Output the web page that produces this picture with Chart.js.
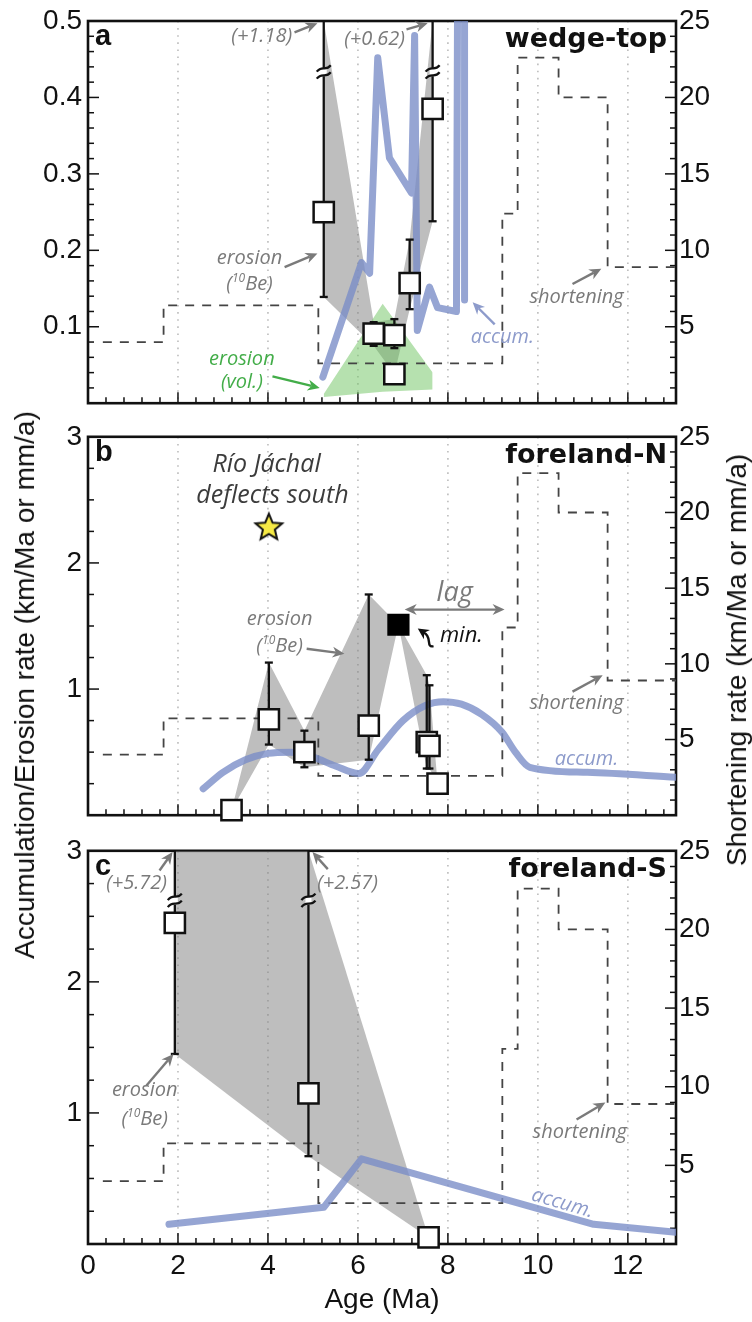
<!DOCTYPE html>
<html>
<head>
<meta charset="utf-8">
<title>Erosion, accumulation and shortening rates</title>
<script src="https://cdn.jsdelivr.net/npm/chart.js@4.4.1/dist/chart.umd.min.js"></script>
<style>
  html, body { margin: 0; padding: 0; background: #fff; }
  body { position: relative; width: 752px; height: 1322px; overflow: hidden; }
  canvas { position: absolute; left: 0; }
  .vtitle { position: absolute; font: 28px "Liberation Sans", Arial, sans-serif; color: #111;
            white-space: nowrap; line-height: 1; transform: translate(-50%, -50%) rotate(-90deg); }
</style>
</head>
<body>
<canvas id="panelA" width="752" height="420" style="top:0px"></canvas>
<canvas id="panelB" width="752" height="412" style="top:420px"></canvas>
<canvas id="panelC" width="752" height="488" style="top:834px"></canvas>
<div class="vtitle" style="left:25px; top:685px">Accumulation/Erosion rate (km/Ma or mm/a)</div>
<div class="vtitle" style="left:737px; top:660px">Shortening rate (km/Ma or mm/a)</div>
<script>
// ---------- shared axes ----------
const AGE_MAX = 13.07;
const ageTicks = [0, 2, 4, 6, 8, 10, 12];
const shortTicks = [5, 10, 15, 20, 25];

// Shortening rate (km/Ma); each rate holds from its age until the next age
const shortAge  = [0.33, 1.68, 5.12, 9.21, 9.55, 10.46, 11.55, 13.07];
const shortRate = [4.0, 6.4, 2.6, 12.4, 22.6, 20.0, 8.9, 8.9];

// ---------- (a) wedge-top ----------
const wedgeTicks  = [0.1, 0.2, 0.3, 0.4, 0.5];
const wedgeAge    = [5.24, 6.35, 6.81, 6.81, 7.15, 7.66];
const wedgeRate   = [0.25, 0.091, 0.089, 0.038, 0.157, 0.385];
const wedgeErrLo  = [0.111, 0.016, 0.017, 0, 0.034, 0.147];
const wedgeErrHi  = [1.18, 0.015, 0.021, 0, 0.057, 0.62];
const wedgeVolAge = [5.24, 6.55, 7.66];
const wedgeVolHi  = [0.012, 0.13, 0.04];
const wedgeVolLo  = [0.008, 0.015, 0.018];
const wedgeAccumAge  = [5.22, 6.08, 6.26, 6.44, 6.70, 7.19, 7.26, 7.32, 7.59, 7.77, 8.19, 8.22, 8.37, 8.37];
const wedgeAccumRate = [0.034, 0.184, 0.17, 0.452, 0.321, 0.275, 0.481, 0.095, 0.152, 0.125, 0.12, 0.62, 0.62, 0.135];

// ---------- (b) foreland-N ----------
const northTicks   = [1, 2, 3];
const northAge     = [3.19, 4.02, 4.81, 6.24, 7.53, 7.59, 7.77];
const northRate    = [0.04, 0.76, 0.50, 0.71, 0.58, 0.55, 0.25];
const northErrLo   = [0, 0.20, 0.12, 0.27, 0.21, 0.18, 0];
const northErrHi   = [0, 0.45, 0.17, 1.04, 0.53, 0.48, 0];
const northMinAge  = [6.90];
const northMinRate = [1.51];
const jachalAge    = [4.02];
const jachalRate   = [2.29];
const northAccumAge  = [2.56, 3.0, 3.5, 4.0, 4.5, 5.0, 5.5, 6.02, 6.45, 7.0, 7.5, 7.9, 8.3, 8.75, 9.2, 9.5, 9.82, 11.1, 13.07];
const northAccumRate = [0.21, 0.34, 0.44, 0.49, 0.50, 0.46, 0.39, 0.33, 0.52, 0.75, 0.87, 0.90, 0.88, 0.80, 0.66, 0.50, 0.38, 0.34, 0.30];

// ---------- (c) foreland-S ----------
const southTicks  = [1, 2, 3];
const southAge    = [1.93, 4.90, 7.57];
const southRate   = [2.45, 1.15, 0.05];
const southErrLo  = [1.0, 0.48, 0];
const southErrHi  = [5.72, 2.57, 0];
const southAccumAge  = [1.80, 5.24, 6.08, 11.24, 13.07];
const southAccumRate = [0.15, 0.28, 0.65, 0.15, 0.09];

// ---------- styling ----------
const AXIS_FONT = '"Liberation Sans", Arial, sans-serif';
const NOTE_FONT = 'italic 20px "Open Sans", sans-serif';
const GREY_TXT  = '#7a7a7a';
const GREEN_TXT = '#43ad49';
const ACCUM_TXT = '#8d9bcb';
const ACCUM_COL = 'rgba(124,142,200,0.8)';
const BE_FILL   = 'rgba(125,125,125,0.5)';
const VOL_FILL  = 'rgba(110,195,95,0.5)';

function pts(xs, ys) { return xs.map((x, i) => ({ x, y: ys[i] })); }
function zeros(n) { return new Array(n).fill(0); }

// Upper and lower limits of the 10Be rates, grouped by age and capped at the axis top
function envelope(ages, rates, lo, hi, cap) {
  const groups = new Map();
  ages.forEach((a, i) => {
    const l = rates[i] - lo[i], h = Math.min(rates[i] + hi[i], cap);
    const g = groups.get(a);
    if (g) { g.lo = Math.min(g.lo, l); g.hi = Math.max(g.hi, h); }
    else groups.set(a, { lo: l, hi: h });
  });
  const keys = [...groups.keys()].sort((p, q) => p - q);
  return {
    upper: keys.map(k => ({ x: k, y: groups.get(k).hi })),
    lower: keys.map(k => ({ x: k, y: groups.get(k).lo }))
  };
}

// Filled five-point star used as a point style
function starImage(r, fill) {
  const s = Math.ceil(r * 2 + 4), c = document.createElement('canvas');
  c.width = c.height = s;
  const g = c.getContext('2d');
  g.translate(s / 2, s / 2 + r * 0.1);
  g.beginPath();
  for (let k = 0; k < 10; k++) {
    const rr = k % 2 ? r * 0.45 : r, ang = -Math.PI / 2 + k * Math.PI / 5;
    g.lineTo(rr * Math.cos(ang), rr * Math.sin(ang));
  }
  g.closePath();
  g.fillStyle = fill; g.fill();
  g.lineWidth = 2; g.strokeStyle = '#111'; g.lineJoin = 'miter'; g.stroke();
  return c;
}

function eachStep(min, max, step, major, fn) {
  const n0 = Math.ceil(min / step - 1e-6), n1 = Math.floor(max / step + 1e-6);
  for (let n = n0; n <= n1; n++) {
    const v = n * step, r = v / major;
    fn(v, Math.abs(r - Math.round(r)) < 1e-6);
  }
}

function drawGridAndBox(chart, p) {
  const { ctx, chartArea: a, scales: { x, y, y2 } } = chart;
  ctx.save();
  // dotted age gridlines
  ctx.strokeStyle = '#bcbcbc'; ctx.lineWidth = 1.6; ctx.setLineDash([1.6, 5.5]);
  ageTicks.forEach(v => {
    if (v <= 0) return;
    const px = x.getPixelForValue(v);
    ctx.beginPath(); ctx.moveTo(px, a.top); ctx.lineTo(px, a.bottom); ctx.stroke();
  });
  ctx.setLineDash([]);
  // inward tick marks
  ctx.strokeStyle = '#111'; ctx.lineWidth = 1.5;
  const seg = (x1, y1, x2, y2) => { ctx.beginPath(); ctx.moveTo(x1, y1); ctx.lineTo(x2, y2); ctx.stroke(); };
  eachStep(y.min, y.max, p.yMinor, p.yMajor, (v, m) => { const py = y.getPixelForValue(v); seg(a.left, py, a.left + (m ? 11 : 6), py); });
  eachStep(y2.min, y2.max, 1, 5, (v, m) => { const py = y2.getPixelForValue(v); seg(a.right, py, a.right - (m ? 11 : 6), py); });
  eachStep(0, AGE_MAX, 0.4, 2, (v, m) => { const px = x.getPixelForValue(v); seg(px, a.bottom, px, a.bottom - (m ? 11 : 6)); });
  // frame
  ctx.lineWidth = 2.6;
  ctx.strokeRect(a.left, a.top, a.right - a.left, a.bottom - a.top);
  ctx.restore();
}

function drawBreak(ctx, px, py) {
  ctx.save();
  ctx.fillStyle = '#fff';
  ctx.fillRect(px - 3, py - 4, 6, 8);
  ctx.strokeStyle = '#111'; ctx.lineWidth = 2.2;
  [-3.5, 3.5].forEach(d => {
    ctx.beginPath();
    ctx.moveTo(px - 7, py + d + 3);
    ctx.bezierCurveTo(px - 2, py + d - 4, px + 2, py + d + 3, px + 7, py + d - 3.5);
    ctx.stroke();
  });
  ctx.restore();
}

function drawErrorBars(chart, ds, p) {
  const { ctx, chartArea: a, scales: { x, y } } = chart;
  ctx.save();
  ctx.strokeStyle = '#111'; ctx.lineWidth = 2.3;
  ds.data.forEach((pt, i) => {
    const eLo = ds.errLo[i], eHi = ds.errHi[i];
    if (!eLo && !eHi) return;
    const px = x.getPixelForValue(pt.x);
    const pyLo = y.getPixelForValue(pt.y - eLo);
    const clipped = pt.y + eHi > y.max;
    const pyHi = clipped ? a.top : y.getPixelForValue(pt.y + eHi);
    ctx.beginPath(); ctx.moveTo(px, pyLo); ctx.lineTo(px, pyHi); ctx.stroke();
    ctx.beginPath(); ctx.moveTo(px - 4, pyLo); ctx.lineTo(px + 4, pyLo); ctx.stroke();
    if (!clipped) { ctx.beginPath(); ctx.moveTo(px - 4, pyHi); ctx.lineTo(px + 4, pyHi); ctx.stroke(); }
    else drawBreak(ctx, px, y.getPixelForValue(p.breakAt));
  });
  ctx.restore();
}

function arrowHead(ctx, x, y, ang, L, W) {
  const c = Math.cos(ang), s = Math.sin(ang);
  ctx.beginPath();
  ctx.moveTo(x, y);
  ctx.lineTo(x - L * c + W * s, y - L * s - W * c);
  ctx.lineTo(x - L * 0.7 * c, y - L * 0.7 * s);
  ctx.lineTo(x - L * c - W * s, y - L * s + W * c);
  ctx.closePath(); ctx.fill();
}

function drawArrow(ctx, x1, y1, x2, y2, color, both) {
  const ang = Math.atan2(y2 - y1, x2 - x1), c = Math.cos(ang), s = Math.sin(ang), L = 12;
  ctx.save();
  ctx.strokeStyle = color; ctx.fillStyle = color; ctx.lineWidth = 2.4;
  ctx.beginPath();
  ctx.moveTo(both ? x1 + c * L * 0.7 : x1, both ? y1 + s * L * 0.7 : y1);
  ctx.lineTo(x2 - c * L * 0.7, y2 - s * L * 0.7);
  ctx.stroke();
  arrowHead(ctx, x2, y2, ang, L, 5.5);
  if (both) arrowHead(ctx, x1, y1, ang + Math.PI, L, 5.5);
  ctx.restore();
}

function drawBe(ctx, cx, cy, size, color) {
  const f = `italic ${size}px "Open Sans", sans-serif`;
  const fs = `italic ${Math.round(size * 0.62)}px "Open Sans", sans-serif`;
  ctx.save();
  ctx.fillStyle = color; ctx.textBaseline = 'middle'; ctx.textAlign = 'left';
  ctx.font = f; const w1 = ctx.measureText('(').width, w3 = ctx.measureText('Be)').width;
  ctx.font = fs; const w2 = ctx.measureText('10').width;
  let xx = cx - (w1 + w2 + w3) / 2;
  ctx.font = f; ctx.fillText('(', xx, cy); xx += w1;
  ctx.font = fs; ctx.fillText('10', xx, cy - size * 0.28); xx += w2;
  ctx.font = f; ctx.fillText('Be)', xx, cy);
  ctx.restore();
}

function drawNotes(chart, p) {
  const { ctx, chartArea: a, scales: { x, y } } = chart;
  const P = (ax, ay) => [x.getPixelForValue(ax), y.getPixelForValue(ay)];
  p.notes.forEach(n => {
    const color = n.color || GREY_TXT;
    if (n.type === 'text') {
      const [px, py] = P(n.x, n.y);
      ctx.save();
      ctx.translate(px, py);
      if (n.rotate) ctx.rotate(n.rotate * Math.PI / 180);
      ctx.font = n.font || NOTE_FONT; ctx.fillStyle = color;
      ctx.textAlign = 'center'; ctx.textBaseline = 'middle';
      ctx.fillText(n.text, 0, 0);
      ctx.restore();
    } else if (n.type === 'be') {
      const [px, py] = P(n.x, n.y);
      drawBe(ctx, px, py, 20, color);
    } else if (n.type === 'arrow' || n.type === 'darrow') {
      const [x1, y1] = P(n.from[0], n.from[1]), [x2, y2] = P(n.to[0], n.to[1]);
      drawArrow(ctx, x1, y1, x2, y2, color, n.type === 'darrow');
    } else if (n.type === 'curl') {
      const [x1, y1] = P(n.from[0], n.from[1]), [x2, y2] = P(n.to[0], n.to[1]);
      ctx.save();
      ctx.strokeStyle = '#111'; ctx.fillStyle = '#111'; ctx.lineWidth = 2.4;
      ctx.beginPath();
      ctx.moveTo(x1, y1);
      ctx.bezierCurveTo(x1 - 8, y1 + 2, x1 - 1, y1 - 10, x2 + 6, y2 + 4);
      ctx.stroke();
      arrowHead(ctx, x2, y2, Math.atan2(-4, -6), 11, 5.5);
      ctx.restore();
    }
  });
  // panel letter and title
  ctx.save();
  ctx.fillStyle = '#111'; ctx.textBaseline = 'alphabetic';
  ctx.font = 'bold 29px "Liberation Sans", sans-serif'; ctx.textAlign = 'left';
  ctx.fillText(p.letter, a.left + 7, a.top + 24);
  ctx.font = 'bold 27px "DejaVu Sans", sans-serif'; ctx.textAlign = 'right';
  ctx.fillText(p.title, a.right - 9, a.top + 26);
  ctx.restore();
}

function makeDecor(p) {
  return {
    id: 'decor' + p.letter,
    beforeDatasetsDraw(chart) { drawGridAndBox(chart, p); },
    beforeDatasetDraw(chart, args) {
      const ds = chart.data.datasets[args.index];
      if (ds.errLo) drawErrorBars(chart, ds, p);
    },
    afterDatasetsDraw(chart) { drawNotes(chart, p); }
  };
}

function buildPanel(canvasId, p) {
  // the shaded 10Be range also passes through the minimum-rate sample, if any
  const minAge = p.minAge || [], minRate = p.minRate || [];
  const env = envelope(p.age.concat(minAge), p.rate.concat(minRate),
                       p.errLo.concat(zeros(minAge.length)), p.errHi.concat(zeros(minAge.length)), p.yMax);
  const datasets = [
    { label: '10Be upper', data: env.upper, fill: '+1', backgroundColor: BE_FILL, borderWidth: 0, pointRadius: 0, order: 10, clip: 0 },
    { label: '10Be lower', data: env.lower, fill: false, borderWidth: 0, pointRadius: 0, order: 10, clip: 0 }
  ];
  if (p.volAge) {
    datasets.push(
      { label: 'vol upper', data: pts(p.volAge, p.volHi), fill: '+1', backgroundColor: VOL_FILL, borderWidth: 0, pointRadius: 0, order: 9, clip: 0 },
      { label: 'vol lower', data: pts(p.volAge, p.volLo), fill: false, borderWidth: 0, pointRadius: 0, order: 9, clip: 0 }
    );
  }
  datasets.push(
    { label: 'shortening', data: pts(shortAge, shortRate), yAxisID: 'y2', stepped: 'before', fill: false,
      borderColor: '#444', borderWidth: 1.8, borderDash: [9, 8], pointRadius: 0, order: 8, clip: 0 },
    { label: 'accum.', data: pts(p.accumAge, p.accumRate), fill: false, borderColor: ACCUM_COL, borderWidth: 7,
      borderJoinStyle: 'round', borderCapStyle: 'round', pointRadius: 0, order: 5, clip: 0,
      cubicInterpolationMode: p.smooth ? 'monotone' : 'default', tension: p.smooth ? 0.4 : 0 },
    { label: 'erosion (10Be)', data: pts(p.age, p.rate), errLo: p.errLo, errHi: p.errHi, showLine: false,
      pointStyle: 'rect', pointRadius: 14.3, pointBackgroundColor: '#fff', pointBorderColor: '#111',
      pointBorderWidth: 2.5, order: 1, clip: false }
  );
  if (minAge.length) {
    datasets.push({ label: 'min.', data: pts(minAge, minRate), showLine: false, pointStyle: 'rect',
      pointRadius: 14.3, pointBackgroundColor: '#000', pointBorderColor: '#000', pointBorderWidth: 2, order: 0, clip: false });
  }
  if (p.starAge) {
    datasets.push({ label: 'Río Jáchal', data: pts(p.starAge, p.starRate), showLine: false,
      pointStyle: starImage(14, '#f6ea45'), pointRadius: 14, order: 0, clip: false });
  }

  const tickFont = { family: AXIS_FONT, size: 28, lineHeight: 1 };
  const xHeight = p.showAge ? 78 : 0;
  return new Chart(document.getElementById(canvasId), {
    type: 'line',
    data: { datasets },
    options: {
      responsive: false, animation: false, events: [],
      layout: { padding: { top: p.padTop, bottom: p.padBottom, left: 0, right: 0 } },
      plugins: { legend: { display: false }, tooltip: { enabled: false } },
      scales: {
        x: {
          type: 'linear', min: 0, max: AGE_MAX, display: !!p.showAge,
          afterBuildTicks: s => { s.ticks = ageTicks.map(v => ({ value: v })); },
          afterFit: s => { s.height = xHeight; s.paddingLeft = 0; s.paddingRight = 0; },
          grid: { display: false, drawTicks: false }, border: { display: false },
          ticks: { font: tickFont, color: '#111', padding: 8, maxRotation: 0, autoSkip: false },
          title: { display: true, text: 'Age (Ma)', color: '#111', font: tickFont, padding: { top: 0, bottom: 8 } }
        },
        y: {
          type: 'linear', position: 'left', min: 0, max: p.yMax,
          afterBuildTicks: s => { s.ticks = p.yTicks.map(v => ({ value: v })); },
          afterFit: s => { s.width = 88; s.paddingTop = 0; s.paddingBottom = 0; },
          grid: { display: false, drawTicks: false }, border: { display: false },
          ticks: { font: tickFont, color: '#111', padding: 6 }
        },
        y2: {
          type: 'linear', position: 'right', min: 0, max: 25,
          afterBuildTicks: s => { s.ticks = shortTicks.map(v => ({ value: v })); },
          afterFit: s => { s.width = 76; s.paddingTop = 0; s.paddingBottom = 0; },
          grid: { display: false, drawTicks: false }, border: { display: false },
          ticks: { font: tickFont, color: '#111', padding: 3 }
        }
      }
    },
    plugins: [makeDecor(p)]
  });
}

buildPanel('panelA', {
  letter: 'a', title: 'wedge-top', padTop: 21, padBottom: 4,
  yMax: 0.5, yTicks: wedgeTicks, yMinor: 0.02, yMajor: 0.1, breakAt: 0.433,
  age: wedgeAge, rate: wedgeRate, errLo: wedgeErrLo, errHi: wedgeErrHi,
  volAge: wedgeVolAge, volHi: wedgeVolHi, volLo: wedgeVolLo,
  accumAge: wedgeAccumAge, accumRate: wedgeAccumRate,
  notes: [
    { type: 'text', text: '(+1.18)', x: 3.86, y: 0.48 },
    { type: 'arrow', from: [4.59, 0.485], to: [5.10, 0.497] },
    { type: 'text', text: '(+0.62)', x: 6.37, y: 0.476 },
    { type: 'arrow', from: [7.08, 0.489], to: [7.55, 0.497] },
    { type: 'text', text: 'erosion', x: 3.59, y: 0.189 },
    { type: 'be', x: 3.59, y: 0.156 },
    { type: 'arrow', from: [4.37, 0.178], to: [5.10, 0.196] },
    { type: 'text', text: 'erosion', x: 3.42, y: 0.058, color: GREEN_TXT },
    { type: 'text', text: '(vol.)', x: 3.42, y: 0.027, color: GREEN_TXT },
    { type: 'arrow', from: [4.10, 0.035], to: [5.15, 0.020], color: GREEN_TXT },
    { type: 'text', text: 'accum.', x: 9.21, y: 0.086, color: ACCUM_TXT },
    { type: 'arrow', from: [9.04, 0.103], to: [8.55, 0.132], color: ACCUM_TXT },
    { type: 'text', text: 'shortening', x: 10.86, y: 0.138 },
    { type: 'arrow', from: [10.77, 0.156], to: [11.41, 0.176] }
  ]
});

buildPanel('panelB', {
  letter: 'b', title: 'foreland-N', padTop: 15, padBottom: 4,
  yMax: 3, yTicks: northTicks, yMinor: 0.25, yMajor: 1, breakAt: 2.6,
  age: northAge, rate: northRate, errLo: northErrLo, errHi: northErrHi,
  minAge: northMinAge, minRate: northMinRate, starAge: jachalAge, starRate: jachalRate,
  accumAge: northAccumAge, accumRate: northAccumRate, smooth: true,
  notes: [
    { type: 'text', text: 'Río Jáchal', x: 3.97, y: 2.78, font: 'italic 25px "Open Sans", sans-serif', color: '#3c3c3c' },
    { type: 'text', text: 'deflects south', x: 4.10, y: 2.53, font: 'italic 25px "Open Sans", sans-serif', color: '#3c3c3c' },
    { type: 'text', text: 'erosion', x: 4.26, y: 1.55 },
    { type: 'be', x: 4.26, y: 1.34 },
    { type: 'arrow', from: [4.86, 1.32], to: [5.70, 1.28] },
    { type: 'text', text: 'lag', x: 8.15, y: 1.76, font: 'italic 27px "Open Sans", sans-serif' },
    { type: 'darrow', from: [7.04, 1.63], to: [9.26, 1.63] },
    { type: 'text', text: 'min.', x: 8.30, y: 1.42, color: '#111', font: 'italic 22px "Open Sans", sans-serif' },
    { type: 'curl', from: [7.68, 1.34], to: [7.33, 1.48] },
    { type: 'text', text: 'shortening', x: 10.86, y: 0.885 },
    { type: 'arrow', from: [10.77, 0.98], to: [11.44, 1.11] },
    { type: 'text', text: 'accum.', x: 11.08, y: 0.44, color: ACCUM_TXT }
  ]
});

buildPanel('panelC', {
  letter: 'c', title: 'foreland-S', padTop: 16, padBottom: 0, showAge: true,
  yMax: 3, yTicks: southTicks, yMinor: 0.25, yMajor: 1, breakAt: 2.62,
  age: southAge, rate: southRate, errLo: southErrLo, errHi: southErrHi,
  accumAge: southAccumAge, accumRate: southAccumRate,
  notes: [
    { type: 'text', text: '(+5.72)', x: 1.08, y: 2.75 },
    { type: 'arrow', from: [1.59, 2.85], to: [1.88, 2.99] },
    { type: 'text', text: '(+2.57)', x: 5.77, y: 2.75 },
    { type: 'arrow', from: [5.33, 2.86], to: [4.99, 2.99] },
    { type: 'text', text: 'erosion', x: 1.26, y: 1.17 },
    { type: 'be', x: 1.26, y: 0.95 },
    { type: 'arrow', from: [1.30, 1.21], to: [1.90, 1.45] },
    { type: 'text', text: 'shortening', x: 10.93, y: 0.85 },
    { type: 'arrow', from: [10.86, 0.95], to: [11.50, 1.08] },
    { type: 'text', text: 'accum.', x: 10.55, y: 0.31, color: ACCUM_TXT, rotate: 16 }
  ]
});
</script>
</body>
</html>
